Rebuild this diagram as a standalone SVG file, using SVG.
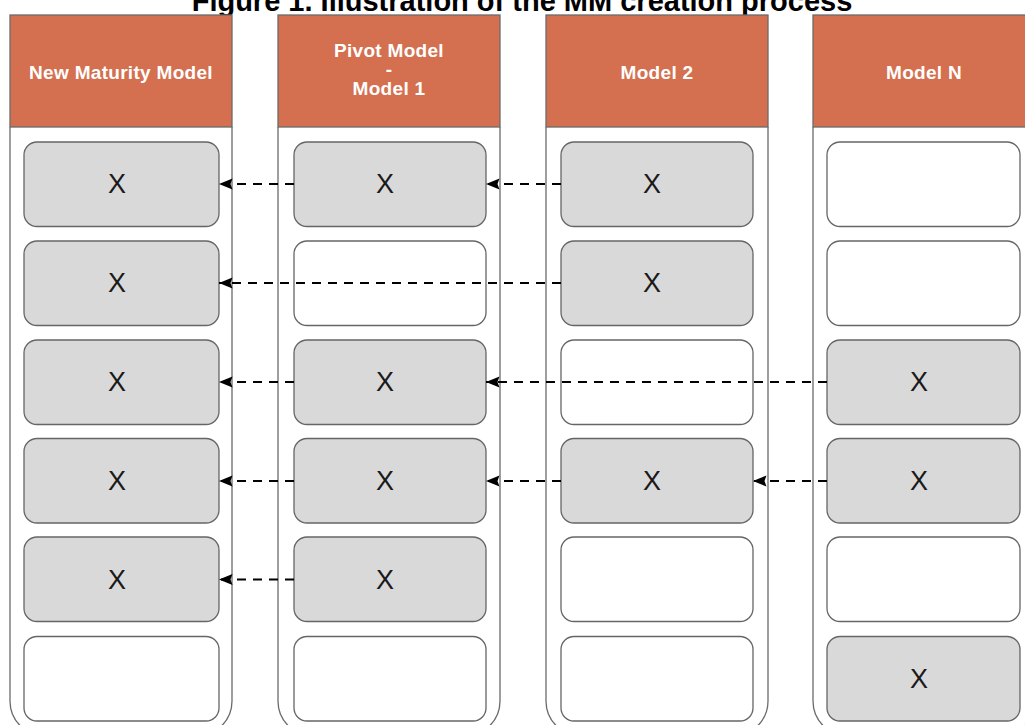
<svg xmlns="http://www.w3.org/2000/svg" width="1025" height="725" viewBox="0 0 1025 725">
  <style>
    .title { font-family: "Liberation Sans", Arial, sans-serif; font-weight: bold; font-size: 29px; fill: #000; text-anchor: middle; }
    .lane { fill: #fff; stroke: #6b6b6b; stroke-width: 1.3; }
    .head { fill: #D4704F; stroke: #6b6b6b; stroke-width: 1.3; }
    .htxt { font-family: "Liberation Sans", Arial, sans-serif; font-weight: bold; font-size: 19px; letter-spacing: 0.3px; fill: #fff; text-anchor: middle; }
    .box { stroke: #666; stroke-width: 1.3; }
    .on { fill: #D9D9D9; }
    .off { fill: #fff; }
    .x { font-family: "Liberation Sans", Arial, sans-serif; font-size: 27px; fill: #1a1a1a; text-anchor: middle; dominant-baseline: central; }
    .link { fill: none; stroke: #000; stroke-width: 1.8; stroke-dasharray: 9 7; marker-end: url(#arrow); }
  </style>
  <defs>
    <!-- filled arrowhead, tip placed on the target box edge -->
    <marker id="arrow" viewBox="0 0 14 12" refX="13.5" refY="6" markerWidth="14" markerHeight="12" markerUnits="userSpaceOnUse" orient="auto">
      <path d="M0,0.5 L13.5,6 L0,11.5 L2,6 Z" fill="#000"/>
    </marker>
  </defs>

  <text class="title" x="522" y="11">Figure 1. Illustration of the MM creation process</text>

  <!-- Lane 1 -->
  <g id="lane-new-maturity-model">
    <path class="lane" d="M10,127 V701 A35,35 0 0 0 45,736 H197 A35,35 0 0 0 232,701 V127"/>
    <rect class="head" x="10" y="15" width="222" height="112"/>
    <text class="htxt" x="121" y="79">New Maturity Model</text>
  </g>
  <g id="n1-1"><rect class="box on" x="24" y="142" width="195" height="84.5" rx="13"/><text class="x" x="117" y="184">X</text></g>
  <g id="n1-2"><rect class="box on" x="24" y="241" width="195" height="84.5" rx="13"/><text class="x" x="117" y="283">X</text></g>
  <g id="n1-3"><rect class="box on" x="24" y="340" width="195" height="84.5" rx="13"/><text class="x" x="117" y="382">X</text></g>
  <g id="n1-4"><rect class="box on" x="24" y="438.5" width="195" height="84.5" rx="13"/><text class="x" x="117" y="481">X</text></g>
  <g id="n1-5"><rect class="box on" x="24" y="537" width="195" height="84.5" rx="13"/><text class="x" x="117" y="579.5">X</text></g>
  <g id="n1-6"><rect class="box off" x="24" y="636.5" width="195" height="84.5" rx="13"/></g>

  <!-- Lane 2 -->
  <g id="lane-pivot-model">
    <path class="lane" d="M278,127 V701 A35,35 0 0 0 313,736 H465 A35,35 0 0 0 500,701 V127"/>
    <rect class="head" x="278" y="15" width="222" height="112"/>
    <text class="htxt" x="389" y="57">Pivot Model</text>
    <text class="htxt" x="389" y="76">-</text>
    <text class="htxt" x="389" y="95">Model 1</text>
  </g>
  <g id="n2-1"><rect class="box on" x="294" y="142" width="192" height="84.5" rx="13"/><text class="x" x="385" y="184">X</text></g>
  <g id="n2-2"><rect class="box off" x="294" y="241" width="192" height="84.5" rx="13"/></g>
  <g id="n2-3"><rect class="box on" x="294" y="340" width="192" height="84.5" rx="13"/><text class="x" x="385" y="382">X</text></g>
  <g id="n2-4"><rect class="box on" x="294" y="438.5" width="192" height="84.5" rx="13"/><text class="x" x="385" y="481">X</text></g>
  <g id="n2-5"><rect class="box on" x="294" y="537" width="192" height="84.5" rx="13"/><text class="x" x="385" y="579.5">X</text></g>
  <g id="n2-6"><rect class="box off" x="294" y="636.5" width="192" height="84.5" rx="13"/></g>

  <!-- Lane 3 -->
  <g id="lane-model-2">
    <path class="lane" d="M546,127 V701 A35,35 0 0 0 581,736 H733 A35,35 0 0 0 768,701 V127"/>
    <rect class="head" x="546" y="15" width="222" height="112"/>
    <text class="htxt" x="657" y="79">Model 2</text>
  </g>
  <g id="n3-1"><rect class="box on" x="561" y="142" width="192" height="84.5" rx="13"/><text class="x" x="652" y="184">X</text></g>
  <g id="n3-2"><rect class="box on" x="561" y="241" width="192" height="84.5" rx="13"/><text class="x" x="652" y="283">X</text></g>
  <g id="n3-3"><rect class="box off" x="561" y="340" width="192" height="84.5" rx="13"/></g>
  <g id="n3-4"><rect class="box on" x="561" y="438.5" width="192" height="84.5" rx="13"/><text class="x" x="652" y="481">X</text></g>
  <g id="n3-5"><rect class="box off" x="561" y="537" width="192" height="84.5" rx="13"/></g>
  <g id="n3-6"><rect class="box off" x="561" y="636.5" width="192" height="84.5" rx="13"/></g>

  <!-- Lane 4 -->
  <g id="lane-model-n">
    <path class="lane" d="M813,127 V701 A35,35 0 0 0 848,736 H1000 A35,35 0 0 0 1035,701 V127"/>
    <rect class="head" x="813" y="15" width="222" height="112"/>
    <text class="htxt" x="924" y="79">Model N</text>
  </g>
  <g id="n4-1"><rect class="box off" x="827" y="142" width="193" height="84.5" rx="13"/></g>
  <g id="n4-2"><rect class="box off" x="827" y="241" width="193" height="84.5" rx="13"/></g>
  <g id="n4-3"><rect class="box on" x="827" y="340" width="193" height="84.5" rx="13"/><text class="x" x="919" y="382">X</text></g>
  <g id="n4-4"><rect class="box on" x="827" y="438.5" width="193" height="84.5" rx="13"/><text class="x" x="919" y="481">X</text></g>
  <g id="n4-5"><rect class="box off" x="827" y="537" width="193" height="84.5" rx="13"/></g>
  <g id="n4-6"><rect class="box on" x="827" y="636.5" width="193" height="84.5" rx="13"/><text class="x" x="919" y="679">X</text></g>

  <!-- Connectors: dashed, drawn from source box left edge to target box right edge -->
  <g id="connectors">
    <path class="link" d="M294,184 H219"/>
    <path class="link" d="M561,184 H486"/>
    <path class="link" d="M561,283 H219"/>
    <path class="link" d="M827,382 H486"/>
    <path class="link" d="M294,382 H219"/>
    <path class="link" d="M294,481 H219"/>
    <path class="link" d="M561,481 H486"/>
    <path class="link" d="M827,481 H753"/>
    <path class="link" d="M294,579.5 H219"/>
  </g>
</svg>
